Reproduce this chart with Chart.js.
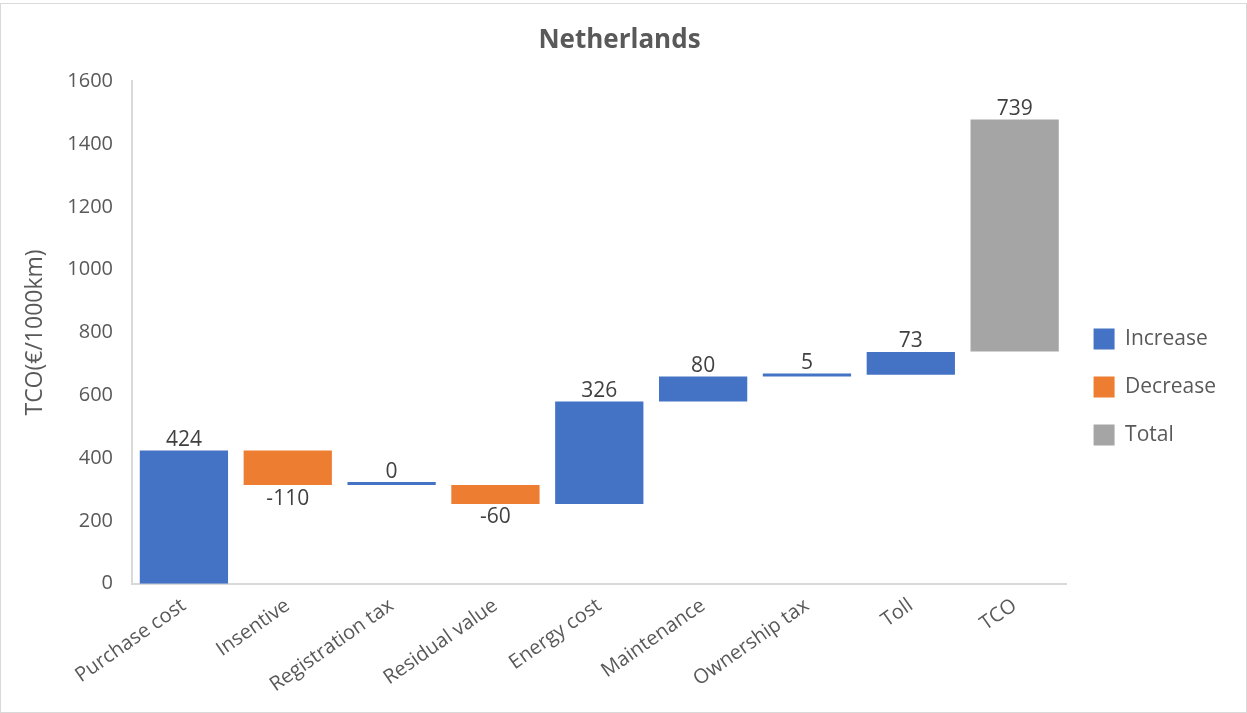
<!DOCTYPE html>
<html>
<head>
<meta charset="utf-8">
<script src="https://cdn.jsdelivr.net/npm/chart.js@4/dist/chart.umd.min.js"></script>
<style>
    body { margin: 0; background: #fff; }
    #wrap {
        position: absolute; left: 0; top: 3px;
        width: 1245px; height: 708px;
        border: 1px solid #d9d9d9;
    }
</style>
</head>
<body>
<div id="wrap"><canvas id="graphCanvas"></canvas></div>
<script>
var categories = ['Purchase cost', 'Insentive', 'Registration tax', 'Residual value',
    'Energy cost', 'Maintenance', 'Ownership tax', 'Toll', 'TCO'];
var changes = [424, -110, 0, -60, 326, 80, 5, 73];
var totalValue = 739;
var yTicks = [0, 200, 400, 600, 800, 1000, 1200, 1400, 1600];

var textColor = '#595959';
var fontName = '"Open Sans", "Liberation Sans", sans-serif';

// build floating bars for the waterfall
var increase = [], decrease = [], total = [];
var running = 0;
for (let i = 0; i < changes.length; i++) {
    let start = running;
    running += changes[i];
    if (changes[i] >= 0) {
        increase.push([start, running]);
        decrease.push(null);
    } else {
        increase.push(null);
        decrease.push([start, running]);
    }
    total.push(null);
}
increase.push(null);
decrease.push(null);
total.push([totalValue, totalValue * 2]);

var labelText = changes.concat([totalValue]);

// value labels: above rising/total bars, below falling bars
var valueLabels = {
    id: 'valueLabels',
    afterDatasetsDraw(chart) {
        let ctx = chart.ctx;
        ctx.save();
        ctx.font = '21px ' + fontName;
        ctx.fillStyle = '#404040';
        ctx.textAlign = 'center';
        chart.data.datasets.forEach(function (ds, di) {
            let meta = chart.getDatasetMeta(di);
            meta.data.forEach(function (bar, i) {
                if (ds.data[i] == null) return;
                let top = Math.min(bar.y, bar.base);
                let bottom = Math.max(bar.y, bar.base);
                if (labelText[i] < 0) {
                    ctx.textBaseline = 'top';
                    ctx.fillText(String(labelText[i]), bar.x, bottom + 3);
                } else {
                    ctx.textBaseline = 'bottom';
                    ctx.fillText(String(labelText[i]), bar.x, top);
                }
            });
        });
        ctx.restore();
    }
};

var chartdata = {
    labels: categories,
    datasets: [
        { label: 'Increase', data: increase, backgroundColor: '#4472C4' },
        { label: 'Decrease', data: decrease, backgroundColor: '#ED7D31' },
        { label: 'Total', data: total, backgroundColor: '#A5A5A5' }
    ]
};

new Chart(document.getElementById('graphCanvas'), {
    type: 'bar',
    data: chartdata,
    plugins: [valueLabels],
    options: {
        responsive: true,
        maintainAspectRatio: false,
        animation: false,
        barPercentage: 0.85,
        categoryPercentage: 1,
        minBarLength: 3,
        layout: { padding: { top: 10, right: 20, bottom: 13, left: 12 } },
        plugins: {
            title: {
                display: true,
                text: 'Netherlands',
                color: textColor,
                font: { family: fontName, size: 26, weight: 'bold' },
                padding: { top: 11, bottom: 25 }
            },
            legend: {
                position: 'right',
                title: {
                    // empty title pushes the legend items a little lower
                    display: true,
                    text: ' ',
                    font: { size: 1 },
                    padding: { top: 0, bottom: 60 }
                },
                labels: {
                    color: textColor,
                    font: { family: fontName, size: 21 },
                    boxWidth: 21,
                    boxHeight: 21,
                    padding: 27
                }
            },
            tooltip: { enabled: false }
        },
        scales: {
            x: {
                stacked: true,
                grid: { display: false },
                border: { color: '#d9d9d9', width: 2 },
                ticks: {
                    color: textColor,
                    font: { family: fontName, size: 20 },
                    minRotation: 35,
                    maxRotation: 35,
                    padding: 2
                }
            },
            y: {
                min: 0,
                max: 1600,
                afterBuildTicks(scale) {
                    scale.ticks = yTicks.map(v => ({ value: v }));
                },
                afterFit(scale) {
                    scale.width = 119;
                },
                grid: { display: false },
                border: { color: '#d9d9d9', width: 2 },
                ticks: {
                    color: textColor,
                    font: { family: fontName, size: 20 },
                    padding: 11,
                    callback: v => String(v)
                },
                title: {
                    display: true,
                    text: 'TCO(€/1000km)',
                    color: textColor,
                    font: { family: fontName, size: 23 },
                    padding: { top: 9, bottom: 0 }
                }
            }
        }
    }
});
</script>
</body>
</html>
